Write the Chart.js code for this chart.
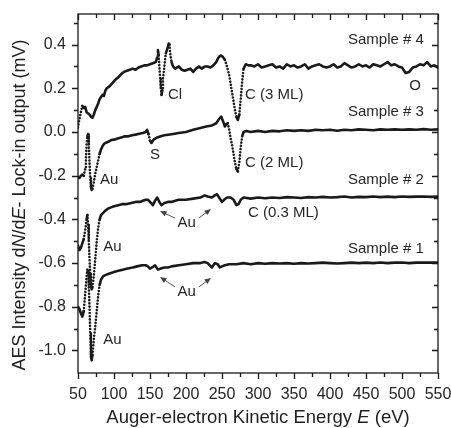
<!DOCTYPE html>
<html>
<head>
<meta charset="utf-8">
<script src="https://cdn.jsdelivr.net/npm/chart.js@4/dist/chart.umd.min.js"></script>
<style>
  html, body { margin: 0; padding: 0; background: #fff; }
  #wrap { width: 451px; height: 428px; }
</style>
</head>
<body>
<div id="wrap"><canvas id="aes" width="451" height="428"></canvas></div>
<script>
// ---- AES spectra (kinetic energy in eV, lock-in output in mV) ----
const energy4 = [50,52,54,56,58,60,62,64,66,68,70,72,74,76,78,80,82,84,86,88,90,94,98,102,106,110,114,118,122,126,130,134,138,142,146,150,154,158,160,161,162,163,164,165,166,167,168,170,172,174,176,177,178,180,182,185,190,194,198,202,206,210,214,218,222,226,230,234,238,242,245,248,251,254,257,260,262,264,266,268,270,272,274,276,278,280,283,287,290,295,300,305,310,315,320,325,330,335,340,345,350,355,360,365,370,375,380,385,390,395,400,405,410,415,420,425,430,435,440,445,450,455,460,465,470,475,480,485,490,495,500,505,510,515,520,525,530,535,540,545,550];
const signal4 = [0.02,0.06,0.09,0.12,0.11,0.115,0.09,0.085,0.08,0.07,0.065,0.08,0.10,0.115,0.13,0.15,0.16,0.17,0.165,0.19,0.20,0.21,0.225,0.24,0.25,0.265,0.275,0.28,0.285,0.29,0.285,0.295,0.30,0.305,0.305,0.31,0.315,0.32,0.34,0.375,0.35,0.30,0.25,0.20,0.17,0.19,0.24,0.30,0.36,0.38,0.405,0.40,0.36,0.32,0.30,0.29,0.30,0.285,0.28,0.285,0.29,0.275,0.29,0.30,0.29,0.30,0.30,0.295,0.305,0.32,0.34,0.35,0.345,0.33,0.30,0.26,0.22,0.18,0.14,0.10,0.07,0.055,0.08,0.15,0.23,0.29,0.31,0.305,0.305,0.30,0.31,0.295,0.30,0.305,0.31,0.295,0.30,0.29,0.31,0.30,0.305,0.295,0.30,0.31,0.29,0.30,0.305,0.31,0.30,0.295,0.30,0.31,0.295,0.30,0.315,0.305,0.295,0.30,0.31,0.30,0.305,0.295,0.31,0.305,0.30,0.31,0.32,0.305,0.31,0.30,0.295,0.27,0.275,0.295,0.30,0.31,0.305,0.32,0.30,0.305,0.295];

const energy3 = [50,52,54,56,58,60,61,62,63,64,65,66,67,68,69,70,72,74,76,78,80,82,84,86,88,92,96,100,105,110,115,120,125,130,135,140,144,146,148,150,152,155,160,165,170,180,190,200,210,220,228,236,242,246,249,252,254,256,258,260,262,264,266,268,270,272,274,276,278,280,284,290,300,310,320,330,340,350,360,370,380,390,400,410,420,430,440,450,460,470,480,490,500,510,520,530,540,550];
const signal3 = [-0.205,-0.21,-0.20,-0.195,-0.20,-0.17,-0.12,-0.06,-0.02,-0.01,-0.06,-0.14,-0.21,-0.25,-0.265,-0.26,-0.23,-0.19,-0.16,-0.13,-0.10,-0.08,-0.065,-0.055,-0.05,-0.045,-0.037,-0.035,-0.03,-0.025,-0.02,-0.02,-0.015,-0.012,-0.008,-0.005,0.0,0.01,-0.01,-0.04,-0.05,-0.035,-0.025,-0.02,-0.015,-0.01,-0.005,0.0,0.01,0.018,0.025,0.03,0.04,0.06,0.07,0.045,0.025,0.035,0.04,0.01,-0.03,-0.06,-0.10,-0.14,-0.17,-0.18,-0.14,-0.07,-0.02,0.0,0.005,0.0,0.005,0.0,0.005,0.003,0.008,0.005,0.008,0.005,0.01,0.008,0.01,0.006,0.01,0.008,0.012,0.01,0.008,0.012,0.01,0.012,0.01,0.012,0.01,0.013,0.01,0.012];

const energy2 = [50,52,54,56,58,60,62,63,64,65,66,67,68,69,70,72,74,76,78,80,82,85,88,92,96,100,106,112,118,124,130,136,140,144,147,150,154,157,160,163,166,170,175,180,185,190,200,210,220,226,230,236,240,243,246,250,253,257,262,266,270,273,276,280,290,300,310,320,330,340,350,360,370,380,390,400,410,420,430,440,450,460,470,480,490,500,510,520,530,540,550];
const signal2 = [-0.52,-0.54,-0.53,-0.51,-0.49,-0.45,-0.40,-0.38,-0.42,-0.50,-0.58,-0.65,-0.70,-0.72,-0.71,-0.66,-0.58,-0.50,-0.44,-0.40,-0.38,-0.37,-0.36,-0.35,-0.345,-0.34,-0.335,-0.33,-0.33,-0.325,-0.32,-0.32,-0.315,-0.31,-0.31,-0.32,-0.335,-0.315,-0.30,-0.32,-0.335,-0.325,-0.32,-0.32,-0.315,-0.31,-0.31,-0.305,-0.30,-0.29,-0.295,-0.30,-0.29,-0.285,-0.30,-0.32,-0.31,-0.30,-0.30,-0.31,-0.335,-0.33,-0.31,-0.30,-0.305,-0.30,-0.303,-0.30,-0.302,-0.298,-0.30,-0.302,-0.298,-0.30,-0.297,-0.30,-0.298,-0.295,-0.30,-0.297,-0.298,-0.295,-0.298,-0.296,-0.298,-0.295,-0.297,-0.296,-0.295,-0.297,-0.296];

const energy1 = [50,52,54,56,58,60,62,63,64,65,66,67,68,69,70,72,74,76,78,80,82,85,88,92,96,101,106,112,119,126,132,139,144,147,150,153,157,161,165,170,175,180,190,200,210,220,226,230,236,240,244,247,250,254,260,270,280,290,300,310,320,330,340,350,360,370,380,390,400,410,420,430,440,450,460,470,480,490,500,510,520,530,540,550];
const signal1 = [-0.80,-0.81,-0.83,-0.845,-0.82,-0.74,-0.66,-0.63,-0.64,-0.70,-0.80,-0.92,-1.03,-1.045,-1.02,-0.95,-0.89,-0.82,-0.75,-0.70,-0.675,-0.66,-0.655,-0.65,-0.645,-0.64,-0.635,-0.63,-0.625,-0.62,-0.615,-0.61,-0.61,-0.615,-0.625,-0.62,-0.61,-0.63,-0.625,-0.62,-0.62,-0.615,-0.61,-0.605,-0.60,-0.60,-0.595,-0.60,-0.62,-0.60,-0.605,-0.62,-0.615,-0.61,-0.605,-0.605,-0.60,-0.605,-0.60,-0.603,-0.60,-0.602,-0.60,-0.603,-0.60,-0.602,-0.60,-0.598,-0.60,-0.602,-0.60,-0.598,-0.60,-0.598,-0.60,-0.597,-0.60,-0.598,-0.597,-0.60,-0.598,-0.597,-0.598,-0.597];

// ---- axis ticks ----
const xTickValues = [50,100,150,200,250,300,350,400,450,500,550];
const xTickLabels = ['50','100','150','200','250','300','350','400','450','500','550'];
const yTickValues = [-1.0,-0.8,-0.6,-0.4,-0.2,0.0,0.2,0.4];
const yTickLabels = ['-1.0','-0.8','-0.6','-0.4','-0.2','0.0','0.2','0.4'];
const xMinorValues = [75,125,175,225,275,325,375,425,475,525];
const yMinorValues = [-0.9,-0.7,-0.5,-0.3,-0.1,0.1,0.3,0.5];

// ---- text annotations (anchored in data coordinates) ----
const peakLabels = [
  { text: 'Sample # 4', e: 425, v: 0.421, align: 'left' },
  { text: 'Sample # 3', e: 425, v: 0.0915, align: 'left' },
  { text: 'Sample # 2', e: 425, v: -0.22, align: 'left' },
  { text: 'Sample # 1', e: 425, v: -0.535, align: 'left' },
  { text: 'O', e: 518, v: 0.21, align: 'center' },
  { text: 'C (3 ML)', e: 282, v: 0.17, align: 'left' },
  { text: 'C (2 ML)', e: 282, v: -0.142, align: 'left' },
  { text: 'C (0.3 ML)', e: 286, v: -0.37, align: 'left' },
  { text: 'Cl', e: 175, v: 0.17, align: 'left' },
  { text: 'S', e: 157, v: -0.105, align: 'center' },
  { text: 'Au', e: 80.5, v: -0.22, align: 'left' },
  { text: 'Au', e: 85, v: -0.526, align: 'left' },
  { text: 'Au', e: 85, v: -0.952, align: 'left' },
  { text: 'Au', e: 201, v: -0.416, align: 'center' },
  { text: 'Au', e: 201, v: -0.732, align: 'center' }
];
const peakArrows = [
  { from: [184.7, -0.394], to: [164, -0.362] },
  { from: [218, -0.394], to: [234.7, -0.352] },
  { from: [184.7, -0.709], to: [164, -0.664] },
  { from: [218, -0.709], to: [234.7, -0.668] }
];

const FONT = '"Liberation Sans", Arial, "DejaVu Sans", sans-serif';
const INK = '#1a1a1a';

function toPoints(es, vs) { return es.map((e, i) => ({ x: e, y: vs[i] })); }

// steep stretches of a trace are drawn as a dotted run of points
const steepDots = ctx => {
  const dx = Math.abs(ctx.p1.x - ctx.p0.x);
  const dy = Math.abs(ctx.p1.y - ctx.p0.y);
  return (dy > 2.5 * dx && dy > 6) ? [0.01, 3.2] : undefined;
};

function trace(label, es, vs) {
  return {
    label,
    data: toPoints(es, vs),
    showLine: true,
    borderColor: INK,
    backgroundColor: INK,
    borderWidth: 2.6,
    borderCapStyle: 'round',
    borderJoinStyle: 'round',
    pointRadius: 0,
    pointHoverRadius: 0,
    tension: 0,
    segment: { borderDash: steepDots }
  };
}

// frame, inward/outward ticks, rich-text axis titles, peak labels and arrows
const decorations = {
  id: 'decorations',
  afterDatasetsDraw(chart) {
    const { ctx, chartArea: a, scales: { x, y } } = chart;
    ctx.save();
    ctx.strokeStyle = INK;
    ctx.lineWidth = 1.3;
    ctx.strokeRect(a.left, a.top, a.right - a.left, a.bottom - a.top);

    const major = 6, minor = 4;
    ctx.beginPath();
    const xt = (v, len) => {
      const px = Math.round(x.getPixelForValue(v)) + 0.5;
      ctx.moveTo(px, a.bottom); ctx.lineTo(px, a.bottom + len);
      ctx.moveTo(px, a.top); ctx.lineTo(px, a.top + len);
    };
    const yt = (v, len) => {
      const py = Math.round(y.getPixelForValue(v)) + 0.5;
      ctx.moveTo(a.left, py); ctx.lineTo(a.left - len, py);
      ctx.moveTo(a.right, py); ctx.lineTo(a.right - len, py);
    };
    xTickValues.forEach(v => xt(v, major));
    xMinorValues.forEach(v => xt(v, minor));
    yTickValues.forEach(v => yt(v, major));
    yMinorValues.forEach(v => yt(v, minor));
    ctx.stroke();

    // peak labels
    ctx.fillStyle = '#262626';
    ctx.font = '15px ' + FONT;
    ctx.textBaseline = 'middle';
    peakLabels.forEach(l => {
      ctx.textAlign = l.align;
      ctx.fillText(l.text, x.getPixelForValue(l.e), y.getPixelForValue(l.v));
    });

    // arrows
    ctx.strokeStyle = '#555';
    ctx.fillStyle = '#444';
    ctx.lineWidth = 1;
    peakArrows.forEach(ar => {
      const x0 = x.getPixelForValue(ar.from[0]), y0 = y.getPixelForValue(ar.from[1]);
      const x1 = x.getPixelForValue(ar.to[0]), y1 = y.getPixelForValue(ar.to[1]);
      const ang = Math.atan2(y1 - y0, x1 - x0);
      ctx.beginPath(); ctx.moveTo(x0, y0); ctx.lineTo(x1 - 4 * Math.cos(ang), y1 - 4 * Math.sin(ang)); ctx.stroke();
      ctx.beginPath();
      ctx.moveTo(x1, y1);
      ctx.lineTo(x1 - 7 * Math.cos(ang - 0.4), y1 - 7 * Math.sin(ang - 0.4));
      ctx.lineTo(x1 - 7 * Math.cos(ang + 0.4), y1 - 7 * Math.sin(ang + 0.4));
      ctx.closePath(); ctx.fill();
    });

    // axis titles with italic symbols
    const rich = (parts, cx, cy, rot, size) => {
      ctx.save();
      ctx.translate(cx, cy);
      ctx.rotate(rot);
      ctx.fillStyle = '#1f1f1f';
      ctx.textBaseline = 'middle';
      ctx.textAlign = 'left';
      const fontOf = p => (p[1] ? 'italic ' : '') + size + 'px ' + FONT;
      const widths = parts.map(p => { ctx.font = fontOf(p); return ctx.measureText(p[0]).width; });
      let pos = -widths.reduce((s, w) => s + w, 0) / 2;
      parts.forEach((p, i) => {
        ctx.font = fontOf(p);
        ctx.fillText(p[0], pos, 0);
        pos += widths[i];
      });
      ctx.restore();
    };
    rich([['Auger-electron Kinetic Energy ', false], ['E', true], [' (eV)', false]],
         (a.left + a.right) / 2, 418, 0, 18.5);
    rich([['AES Intensity d', false], ['N', true], ['/d', false], ['E', true], ['- Lock-in output (mV)', false]],
         20, 205, -Math.PI / 2, 18);
    ctx.restore();
  }
};

new Chart(document.getElementById('aes'), {
  type: 'scatter',
  data: {
    datasets: [
      trace('Sample # 4', energy4, signal4),
      trace('Sample # 3', energy3, signal3),
      trace('Sample # 2', energy2, signal2),
      trace('Sample # 1', energy1, signal1)
    ]
  },
  options: {
    responsive: false,
    animation: false,
    devicePixelRatio: 1,
    layout: { padding: { left: 0, right: 13, top: 14, bottom: 0 } },
    plugins: { legend: { display: false }, tooltip: { enabled: false } },
    scales: {
      x: {
        type: 'linear',
        min: 50, max: 550,
        grid: { display: false },
        border: { display: false },
        afterFit: s => { s.height = 55; s.paddingLeft = 0; s.paddingRight = 0; },
        afterBuildTicks: s => { s.ticks = xTickValues.map(v => ({ value: v })); },
        ticks: {
          autoSkip: false, maxRotation: 0, padding: 4,
          color: '#262626', font: { family: FONT, size: 16 },
          callback: v => xTickLabels[xTickValues.indexOf(v)]
        }
      },
      y: {
        type: 'linear',
        min: -1.103, max: 0.54,
        grid: { display: false },
        border: { display: false },
        afterFit: s => { s.width = 78; s.paddingTop = 0; s.paddingBottom = 0; },
        afterBuildTicks: s => { s.ticks = yTickValues.map(v => ({ value: v })); },
        ticks: {
          autoSkip: false, padding: 4,
          color: '#262626', font: { family: FONT, size: 16 },
          callback: v => yTickLabels[yTickValues.findIndex(t => Math.abs(t - v) < 1e-9)]
        }
      }
    }
  },
  plugins: [decorations]
});
</script>
</body>
</html>
